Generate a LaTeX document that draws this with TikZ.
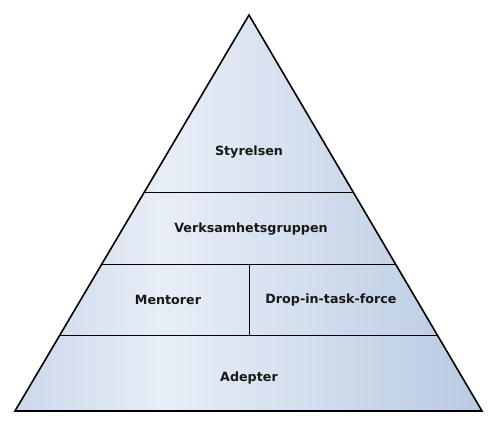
\documentclass[tikz,border=0pt]{standalone}
\usepackage{fontspec}
\setmainfont{DejaVu Sans}
\usetikzlibrary{calc}
\definecolor{shA}{RGB}{204,215,234}
\definecolor{shB}{RGB}{232,238,247}
\definecolor{shC}{RGB}{185,202,226}
\pgfdeclarehorizontalshading{pyr}{100bp}{color(0bp)=(shA); color(25bp)=(shA); color(41bp)=(shB); color(75bp)=(shC); color(100bp)=(shC)}
\tikzset{
  outline/.style={draw=black, line width=1.6pt, line join=miter},
  divider/.style={draw=black, line width=1pt},
  lbl/.style={font=\bfseries\fontsize{12.7}{14}\selectfont, text=black!90, inner sep=0pt}
}
\begin{document}
\begin{tikzpicture}[x=1pt,y=1pt]
\useasboundingbox (0,0) rectangle (498,426);
\coordinate (A) at (249,411);
\coordinate (BL) at (15,15);
\coordinate (BR) at (482,15);
% band boundaries
\coordinate (L1) at ($(BL)!0.5505!(A)$);
\coordinate (R1) at ($(BR)!0.5505!(A)$);
\coordinate (L2) at ($(BL)!0.3712!(A)$);
\coordinate (R2) at ($(BR)!0.3712!(A)$);
\coordinate (L3) at ($(BL)!0.1894!(A)$);
\coordinate (R3) at ($(BR)!0.1894!(A)$);
\coordinate (V2) at (249,162);
\coordinate (V3) at (249,90);
\shade[shading=pyr] (A) -- (BL) -- (BR) -- cycle;
\draw[divider] (L1) -- (R1);
\draw[divider] (L2) -- (R2);
\draw[divider] (L3) -- (R3);
\draw[divider] (V2) -- (V3);
\draw[outline] (A) -- (BL) -- (BR) -- cycle;
\node[lbl] (styr) at (249,274) {Styrelsen};
\node[lbl] (verk) at (251,197) {Verksamhetsgruppen};
\node[lbl] (ment) at (168,126) {Mentorer};
\node[lbl] (drop) at (331,126) {Drop-in-task-force};
\node[lbl] (adep) at (249,48) {Adepter};
\end{tikzpicture}
\end{document}
